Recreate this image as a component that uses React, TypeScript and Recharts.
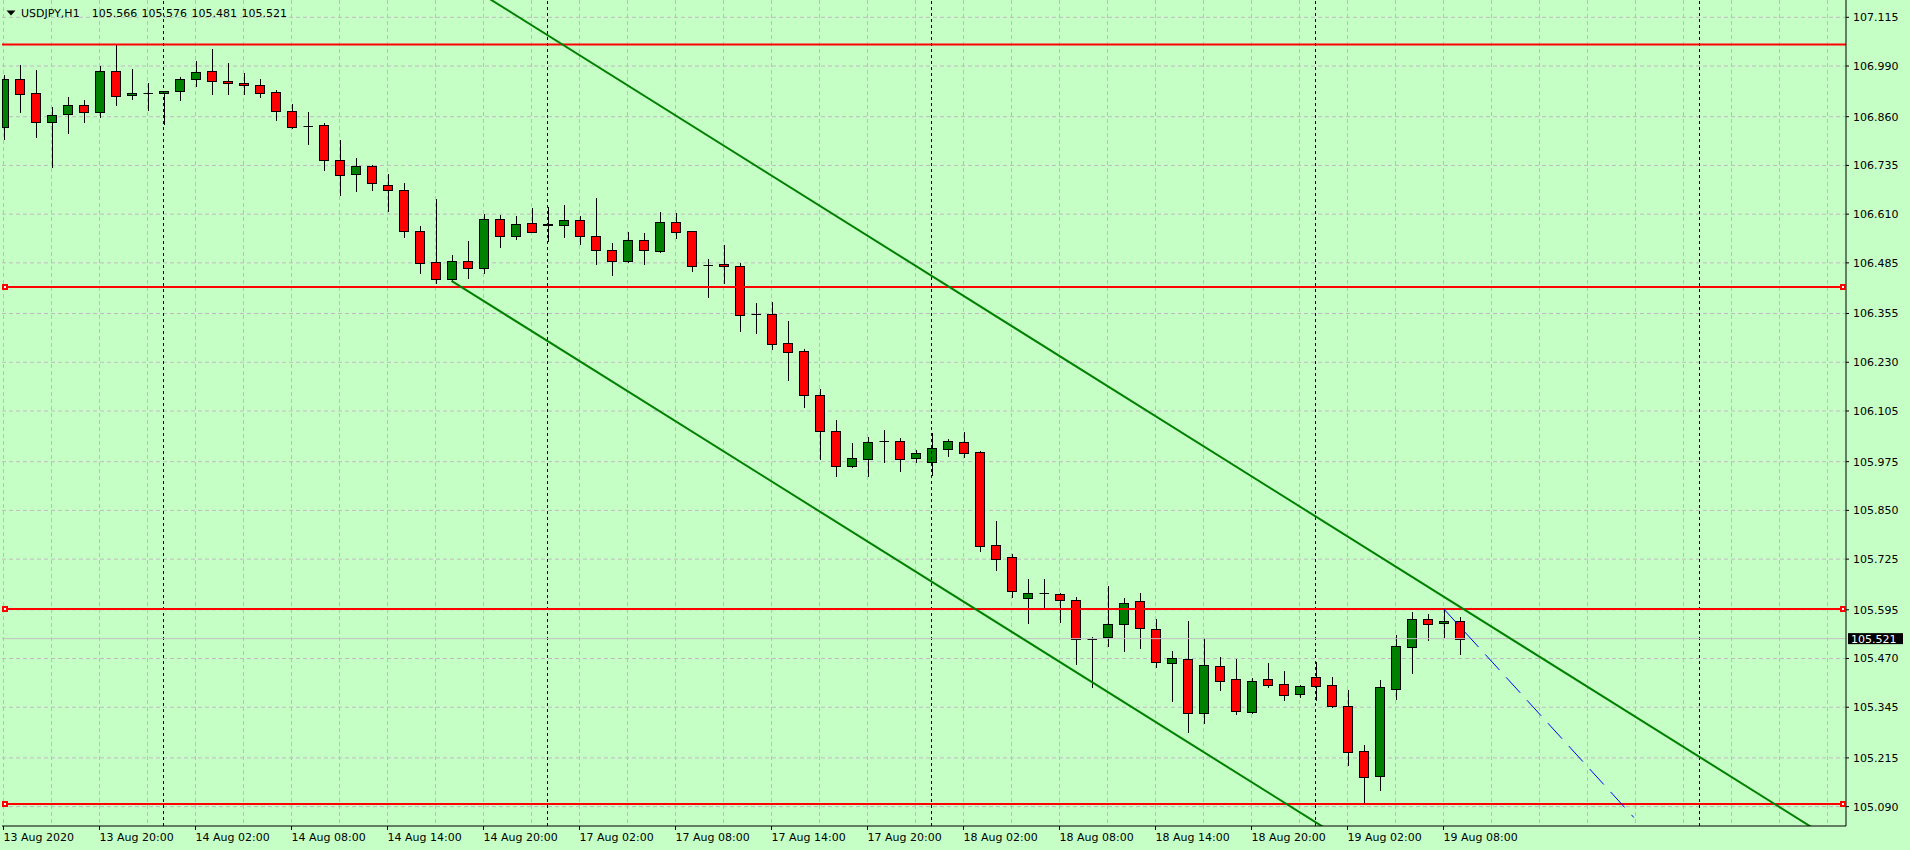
import React from "react";
import {
  Bar,
  CartesianGrid,
  ComposedChart,
  ReferenceDot,
  ReferenceLine,
  XAxis,
  YAxis
} from "recharts";

// USDJPY H1, 13 Aug 2020 14:00 .. 19 Aug 2020 09:00 (one entry per bar)
const opens = [
  106.833, 106.958, 106.92, 106.846, 106.866, 106.889, 106.871, 106.976, 106.915, 106.92,
  106.92, 106.925, 106.956, 106.976, 106.951, 106.946, 106.941, 106.923, 106.874, 106.836,
  106.838, 106.748, 106.712, 106.733, 106.684, 106.671, 106.566, 106.487, 106.443, 106.489,
  106.471, 106.597, 106.553, 106.587, 106.583, 106.581, 106.594, 106.553, 106.517, 106.489,
  106.543, 106.515, 106.589, 106.566, 106.48, 106.481, 106.476, 106.353, 106.353, 106.279,
  106.258, 106.145, 106.053, 105.963, 105.981, 106.029, 106.027, 105.984, 105.973, 106.007,
  106.025, 105.999, 105.761, 105.73, 105.625, 105.637, 105.635, 105.62, 105.521, 105.525,
  105.558, 105.617, 105.545, 105.458, 105.468, 105.33, 105.45, 105.417, 105.332, 105.417,
  105.404, 105.378, 105.422, 105.402, 105.348, 105.232, 105.168, 105.391, 105.499, 105.571,
  105.561, 105.566
];
const highs = [
  106.967, 106.993, 106.98, 106.885, 106.911, 106.903, 106.99, 107.047, 106.982, 106.947,
  106.926, 106.961, 107.002, 107.034, 106.998, 106.972, 106.956, 106.928, 106.893, 106.872,
  106.843, 106.8, 106.754, 106.735, 106.713, 106.689, 106.58, 106.648, 106.505, 106.541,
  106.611, 106.608, 106.605, 106.626, 106.629, 106.634, 106.605, 106.652, 106.536, 106.564,
  106.562, 106.615, 106.612, 106.568, 106.494, 106.531, 106.484, 106.381, 106.384, 106.335,
  106.263, 106.161, 106.082, 106.022, 106.038, 106.056, 106.035, 106.004, 106.048, 106.033,
  106.05, 106.003, 105.822, 105.738, 105.673, 105.673, 105.637, 105.627, 105.525, 105.656,
  105.625, 105.638, 105.571, 105.489, 105.567, 105.522, 105.473, 105.468, 105.419, 105.458,
  105.437, 105.402, 105.46, 105.422, 105.389, 105.248, 105.414, 105.53, 105.589, 105.584,
  105.598, 105.576
];
const lows = [
  106.804, 106.873, 106.809, 106.732, 106.819, 106.847, 106.858, 106.891, 106.906, 106.876,
  106.84, 106.904, 106.94, 106.917, 106.919, 106.919, 106.91, 106.852, 106.83, 106.791,
  106.722, 106.66, 106.67, 106.673, 106.619, 106.552, 106.46, 106.434, 106.439, 106.447,
  106.458, 106.525, 106.545, 106.563, 106.541, 106.552, 106.534, 106.481, 106.455, 106.487,
  106.483, 106.513, 106.55, 106.463, 106.398, 106.434, 106.311, 106.304, 106.263, 106.185,
  106.116, 105.983, 105.939, 105.961, 105.939, 105.973, 105.95, 105.975, 105.941, 105.989,
  105.986, 105.747, 105.698, 105.629, 105.562, 105.6, 105.563, 105.457, 105.398, 105.501,
  105.488, 105.498, 105.448, 105.362, 105.281, 105.304, 105.388, 105.327, 105.33, 105.398,
  105.363, 105.37, 105.363, 105.346, 105.198, 105.099, 105.132, 105.366, 105.434, 105.517,
  105.524, 105.481
];
const closes = [
  106.956, 106.917, 106.846, 106.864, 106.889, 106.871, 106.976, 106.912, 106.921, 106.92,
  106.925, 106.956, 106.974, 106.951, 106.946, 106.941, 106.92, 106.874, 106.833, 106.835,
  106.748, 106.71, 106.733, 106.689, 106.671, 106.566, 106.484, 106.443, 106.489, 106.471,
  106.597, 106.553, 106.584, 106.565, 106.584, 106.594, 106.553, 106.517, 106.489, 106.543,
  106.517, 106.589, 106.565, 106.478, 106.48, 106.476, 106.352, 106.353, 106.276, 106.256,
  106.145, 106.053, 105.963, 105.984, 106.025, 106.028, 105.981, 105.997, 106.009, 106.027,
  105.997, 105.758, 105.725, 105.643, 105.638, 105.637, 105.62, 105.52, 105.521, 105.558,
  105.612, 105.548, 105.461, 105.471, 105.33, 105.453, 105.412, 105.335, 105.412, 105.401,
  105.376, 105.399, 105.399, 105.348, 105.23, 105.166, 105.396, 105.502, 105.571, 105.558,
  105.566, 105.521
];

// one label every 6 bars
const timeLabels = [
  "13 Aug 2020", "13 Aug 20:00", "14 Aug 02:00", "14 Aug 08:00", "14 Aug 14:00", "14 Aug 20:00",
  "17 Aug 02:00", "17 Aug 08:00", "17 Aug 14:00", "17 Aug 20:00", "18 Aug 02:00", "18 Aug 08:00",
  "18 Aug 14:00", "18 Aug 20:00", "19 Aug 02:00", "19 Aug 08:00"
];
const priceTicks = [
  107.115, 106.99, 106.86, 106.735, 106.61, 106.485, 106.355, 106.23, 106.105,
  105.975, 105.85, 105.725, 105.595, 105.47, 105.345, 105.215, 105.09
];
const daySeparators = [10, 34, 58, 82, 106];
const gridBars = Array.from({ length: 39 }, (_, i) => i * 3);

const levels = [107.045, 106.423, 105.597, 105.097];
const selectedLevels = [106.423, 105.597, 105.097];
const upperChannel = [{ x: 30, y: 107.172 }, { x: 115, y: 104.986 }];
const lowerChannel = [{ x: 28, y: 106.439 }, { x: 85, y: 104.973 }];
const projection = [{ x: 90, y: 105.598 }, { x: 101.9, y: 105.062 }];
const lastPrice = 105.521;
const header = { symbol: "USDJPY,H1", ohlc: ["105.566", "105.576", "105.481", "105.521"] };

const rows = opens.map((o, i) => ({
  k: i,
  range: [lows[i], highs[i]],
  o,
  h: highs[i],
  l: lows[i],
  c: closes[i]
}));

const BG = "#c6ffc6";
const GRID = "#c2b9c2";
const BULL = "#008000";
const BEAR = "#ff0000";
const FONT = "DejaVu Sans, Verdana, sans-serif";
const PLOT_LEFT = 2;

function Candle(props: any) {
  const { x, y, width, height, payload } = props;
  if (x == null || !payload) return null;
  const { o, h, l, c } = payload;
  const cx = Math.round(x + width / 2) + 0.5;
  const py = (v: number) => y + ((h - v) / (h - l || 1)) * height;
  const top = Math.round(py(Math.max(o, c))) + 0.5;
  const bot = Math.round(py(Math.min(o, c))) + 0.5;
  const left = Math.max(cx - 5, PLOT_LEFT + 0.5);
  const right = cx + 4;
  return (
    <g>
      <line x1={cx} x2={cx} y1={Math.round(y)} y2={Math.round(y + height) + 1} stroke="#000" />
      {bot - top >= 1 ? (
        <rect x={left} y={top} width={right - left} height={bot - top} fill={c > o ? BULL : BEAR} stroke="#000" />
      ) : (
        <line x1={left} x2={right + 0.5} y1={top} y2={top} stroke="#000" />
      )}
    </g>
  );
}

function TimeTick(props: any) {
  const { x, y, payload } = props;
  return (
    <text x={x} y={y + 9} fontSize={11} fontFamily={FONT} fill="#000" textAnchor="start">
      {timeLabels[Math.round(payload.value / 6)]}
    </text>
  );
}

function Marker(props: any) {
  const { cx, cy } = props;
  if (cx == null) return null;
  return <rect x={Math.round(cx) - 2} y={Math.round(cy) - 2} width={4} height={4} fill="#fff" stroke={BEAR} strokeWidth={2} />;
}

function PriceTag(props: any) {
  const vb = props.viewBox;
  if (!vb) return null;
  const x = vb.x + vb.width + 2;
  return (
    <g>
      <rect x={x} y={vb.y - 5.5} width={55} height={11} fill="#000" />
      <text x={x + 3} y={vb.y + 4} fontSize={11} fontFamily={FONT} fill="#fff">
        {lastPrice.toFixed(3)}
      </text>
    </g>
  );
}

export default function App() {
  return (
    <div style={{ position: "fixed", left: 0, top: 0, width: 1910, height: 850, background: BG, overflow: "hidden" }}>
      <ComposedChart width={1910} height={850} data={rows} margin={{ top: 0, right: 0, bottom: 0, left: PLOT_LEFT }}>
        <CartesianGrid
          stroke={GRID}
          strokeDasharray="4 3"
          horizontalValues={priceTicks}
          verticalValues={gridBars}
        />
        <XAxis
          dataKey="k"
          type="number"
          domain={[-0.09375, 115.15625]}
          allowDataOverflow
          padding={{ left: 0, right: 0 }}
          ticks={timeLabels.map((_, i) => i * 6)}
          interval={0}
          tick={<TimeTick />}
          tickSize={4}
          tickMargin={2}
          height={24}
          axisLine={{ stroke: "#000" }}
          tickLine={{ stroke: "#000" }}
        />
        <YAxis
          orientation="right"
          type="number"
          domain={[105.0403, 107.1594]}
          allowDataOverflow
          ticks={priceTicks}
          interval={0}
          tickFormatter={(v: number) => v.toFixed(3)}
          width={64}
          tickSize={3}
          tickMargin={4}
          tick={{ fill: "#000", fontSize: 11, fontFamily: FONT }}
          axisLine={{ stroke: "#000" }}
          tickLine={{ stroke: "#000" }}
        />
        {daySeparators.map((d) => (
          <ReferenceLine key={"d" + d} x={d} stroke="#000" strokeDasharray="3 3" />
        ))}
        <ReferenceLine y={lastPrice} stroke="#c0c0c0" label={<PriceTag />} />
        <Bar dataKey="range" barSize={10} shape={<Candle />} isAnimationActive={false} />
        {levels.map((v) => (
          <ReferenceLine key={"l" + v} y={v} stroke={BEAR} strokeWidth={2} />
        ))}
        <ReferenceLine segment={upperChannel} stroke={BULL} strokeWidth={2} ifOverflow="hidden" />
        <ReferenceLine segment={lowerChannel} stroke={BULL} strokeWidth={2} ifOverflow="hidden" />
        <ReferenceLine segment={projection} stroke="#0000ff" strokeDasharray="21 10" ifOverflow="hidden" />
        {selectedLevels.map((v) => (
          <ReferenceDot key={"a" + v} x={0.094} y={v} r={3} shape={<Marker />} ifOverflow="visible" />
        ))}
        {selectedLevels.map((v) => (
          <ReferenceDot key={"b" + v} x={114.97} y={v} r={3} shape={<Marker />} ifOverflow="visible" />
        ))}
      </ComposedChart>
      <svg width={400} height={24} style={{ position: "absolute", left: 0, top: 0 }}>
        <polygon points="6.5,10.5 15.5,10.5 11,15.5" fill="#000" />
        <text fontSize={11} fontFamily={FONT} fill="#000" y={17.3}>
          <tspan x={21}>{header.symbol}</tspan>
          {header.ohlc.map((s, i) => (
            <tspan key={s + i} x={91.7 + i * 49.9}>{s}</tspan>
          ))}
        </text>
      </svg>
    </div>
  );
}
